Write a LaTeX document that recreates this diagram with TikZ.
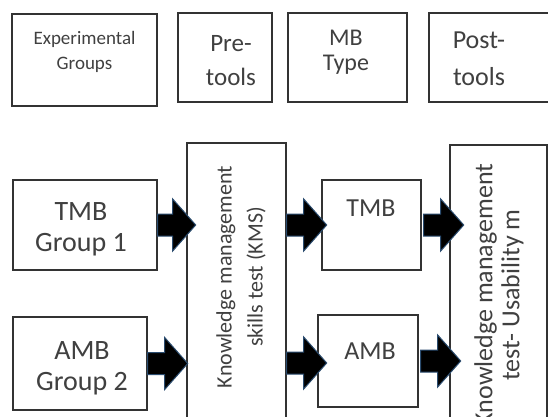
\documentclass[tikz,border=0pt]{standalone}
\usepackage{fontspec}
\setmainfont{Carlito}
\usetikzlibrary{calc}
\definecolor{txt}{HTML}{404040}
\definecolor{edge}{HTML}{333333}
\definecolor{aredge}{HTML}{2B4C6F}
\tikzset{
  box/.style={draw=edge, line width=1.4pt, fill=white, inner sep=0pt},
  lbl/.style={text=txt, align=center, inner sep=0pt},
  barrow/.style={fill=black, draw=aredge, line width=1pt, line join=miter},
}
\newcommand\blockarr[3]{%
  \draw[barrow] #1 ++(0,-11) -- ++(#2-#3,0) -- ++(0,-15) -- ++(#3,26) -- ++(-#3,26) -- ++(0,-15) -- ++(-#2+#3,0) -- cycle;}
\begin{document}
\begin{tikzpicture}[x=1pt,y=-1pt]
\clip (0,0) rectangle (548,417);
\fill[white] (0,0) rectangle (548,417);
% top row
\node[box, minimum width=145pt, minimum height=92pt] (exp) at (84.5,60) {};
\node[box, minimum width=94pt, minimum height=89pt] (pre) at (225,57.5) {};
\node[box, minimum width=119pt, minimum height=89pt] (mbt) at (347.5,57.5) {};
\node[box, minimum width=131pt, minimum height=89pt] (post) at (494.5,57.5) {};
\node[lbl, font=\fontsize{19}{25}\selectfont] (exptxt) at (84.5,52) {Experimental\\Groups};
\node[lbl, font=\fontsize{25}{34}\selectfont] (pretxt) at (231,61) {Pre-\\tools};
\node[lbl, font=\fontsize{24}{25}\selectfont] (mbtxt) at (346,52) {MB\\Type};
\node[lbl, font=\fontsize{26}{37}\selectfont] (posttxt) at (479,59) {Post-\\tools};
% lower part
\node[box, minimum width=144pt, minimum height=90pt] (g1) at (85,225) {};
\node[box, minimum width=134pt, minimum height=93pt] (g2) at (80,363.5) {};
\node[box, minimum width=99pt, minimum height=297pt] (kms) at (236.5,291.5) {};
\node[box, minimum width=99pt, minimum height=90pt] (tmb) at (371.5,225) {};
\node[box, minimum width=100pt, minimum height=92pt] (amb) at (368,361) {};
\node[box, minimum width=97pt, minimum height=295pt] (postb) at (498.5,292.5) {};
\node[lbl, font=\fontsize{28}{31}\selectfont] (g1txt) at (81,229) {TMB\\Group 1};
\node[lbl, font=\fontsize{28}{31}\selectfont] (g2txt) at (82,368) {AMB\\Group 2};
\node[lbl, font=\fontsize{26}{30}\selectfont] (tmbtxt) at (371,208.5) {TMB};
\node[lbl, font=\fontsize{26}{30}\selectfont] (ambtxt) at (370,351) {AMB};
\node[lbl, rotate=90, font=\fontsize{22}{31}\selectfont] (kmstxt) at (241,277) {Knowledge management\\skills test (KMS)};
\node[lbl, rotate=90, font=\fontsize{26}{27}\selectfont] (postbtxt) at (499,295) {Knowledge management\\test- Usability m};
% arrows
\blockarr{(g1.east)}{38}{23}
\blockarr{(g2.east)}{40}{23}
\blockarr{(kms.east |- tmb.west)}{40}{23}
\blockarr{($(kms.east |- amb.west)+(0,2)$)}{40}{23}
\blockarr{($(tmb.east)+(2,0)$)}{40}{23}
\blockarr{($(amb.east)+(2,0)$)}{40}{23}
\end{tikzpicture}
\end{document}
